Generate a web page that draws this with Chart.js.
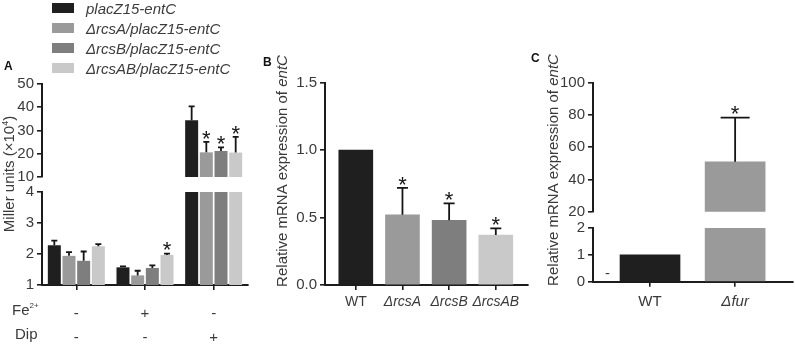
<!DOCTYPE html>
<html><head><meta charset="utf-8">
<script src="https://cdn.jsdelivr.net/npm/chart.js@4.4.1/dist/chart.umd.min.js"></script>
<style>
html,body{margin:0;padding:0;background:#fff;}
#wrap{position:relative;width:795px;height:344px;overflow:hidden;background:#fff;}
#wrap canvas{position:absolute;left:0;top:0;}
</style></head><body>
<div id="wrap">
<canvas id="aTop" width="795" height="344"></canvas>
<canvas id="aBot" width="795" height="344"></canvas>
<canvas id="bChart" width="795" height="344"></canvas>
<canvas id="cTop" width="795" height="344"></canvas>
<canvas id="cBot" width="795" height="344"></canvas>
</div>
<script>
// ---------- DATA ----------
// Panel A (Miller units x10^4)
const aFeRow  = ['-', '+', '-'];
const aDipRow = ['-', '-', '+'];
const aSeriesNames = ['placZ15-entC', '\u0394rcsA/placZ15-entC', '\u0394rcsB/placZ15-entC', '\u0394rcsAB/placZ15-entC'];
const aWT      = [2.28, 1.57, 34.4];
const aRcsA    = [1.94, 1.31, 20.6];
const aRcsB    = [1.78, 1.55, 21.2];
const aRcsAB   = [2.25, 1.97, 20.5];
const aErrWT   = [0.15, 0.03, 6.0];
const aErrRcsA = [0.12, 0.15, 4.5];
const aErrRcsB = [0.30, 0.08, 1.5];
const aErrRcsAB= [0.07, 0.04, 6.8];
const aStarWT  = [false, false, false];
const aStarA   = [false, false, true];
const aStarB   = [false, false, true];
const aStarAB  = [false, true, true];
const aTopTicks = [10, 20, 30, 40, 50];
const aBotTicks = [1, 2, 3, 4];

// Panel B (relative mRNA expression of entC)
const bCats  = ['WT', '\u0394rcsA', '\u0394rcsB', '\u0394rcsAB'];
const bVals  = [1.0, 0.52, 0.48, 0.37];
const bErrs  = [0, 0.20, 0.125, 0.05];
const bStars = [false, true, true, true];
const bTicks = [0, 0.5, 1.0, 1.5];

// Panel C
const cCats  = ['WT', '\u0394fur'];
const cVals  = [1.0, 51];
const cErrs  = [0, 27.3];
const cStars = [false, true];
const cTopTicks = [20, 40, 60, 80, 100];
const cBotTicks = [0, 1, 2];

// ---------- STYLE ----------
const FONT = '"Liberation Sans", Arial, Helvetica, sans-serif';
const AX = '#1c1c1c';
const TXT = '#3a3a3a';
const aColors = ['#1f1f1f', '#9a9a9a', '#7e7e7e', '#c9c9c9'];
const bColors = ['#1f1f1f', '#9a9a9a', '#7e7e7e', '#c9c9c9'];
const cColors = ['#1f1f1f', '#9a9a9a'];
Chart.defaults.font.family = FONT;
Chart.defaults.color = TXT;
const W = 795, H = 344;

function pad(L, T, R, B, yW, xH) {
  return {left: L - yW, top: T, right: W - R, bottom: H - B - xH};
}
function yAxis(min, max, ticks, yW, fmt) {
  return {
    type: 'linear', min, max, beginAtZero: false,
    afterBuildTicks: s => { s.ticks = ticks.map(v => ({value: v})); },
    afterFit: s => { s.width = yW; },
    grid: {drawOnChartArea: false, drawTicks: true, tickLength: 5, color: AX, lineWidth: 1.6},
    border: {display: true, color: AX, width: 2},
    ticks: {color: TXT, font: {size: 15}, padding: 3, autoSkip: false,
            callback: v => fmt ? fmt(v) : String(v)}
  };
}
function errPlugin(id, errs, stars, capW) {
  return {id, afterDatasetsDraw(chart) {
    const ctx = chart.ctx, ys = chart.scales.y;
    ctx.save();
    chart.data.datasets.forEach((ds, di) => {
      const meta = chart.getDatasetMeta(di);
      meta.data.forEach((el, j) => {
        const raw = ds.data[j];
        const v = (raw !== null && typeof raw === 'object') ? raw.y : raw;
        const e = errs[di][j];
        const top = v + e;
        if (v < ys.min || top > ys.max) return;
        const x = el.x, y0 = ys.getPixelForValue(v), y1 = ys.getPixelForValue(top);
        ctx.strokeStyle = '#151515';
        ctx.lineWidth = 1.8;
        if (e > 0) {
          ctx.beginPath();
          ctx.moveTo(x, y0); ctx.lineTo(x, y1);
          ctx.moveTo(x - capW / 2, y1); ctx.lineTo(x + capW / 2, y1);
          ctx.stroke();
        }
        if (stars[di][j]) {
          ctx.fillStyle = '#151515';
          ctx.font = '22px ' + FONT;
          ctx.textAlign = 'center';
          ctx.textBaseline = 'alphabetic';
          ctx.fillText('*', x, y1 - 9 + 12.8);
        }
      });
    });
    ctx.restore();
  }};
}
function drawParts(ctx, parts, x, y, rot, align) {
  ctx.save();
  ctx.translate(x, y);
  if (rot) ctx.rotate(rot);
  ctx.textBaseline = 'alphabetic';
  ctx.textAlign = 'left';
  let w = 0;
  parts.forEach(p => { ctx.font = p.f; w += ctx.measureText(p.t).width; });
  let cur = align === 'center' ? -w / 2 : 0;
  parts.forEach(p => {
    ctx.font = p.f;
    ctx.fillStyle = p.c || TXT;
    ctx.fillText(p.t, cur, p.dy || 0);
    cur += ctx.measureText(p.t).width;
  });
  ctx.restore();
}
const F15 = '15px ' + FONT, F15I = 'italic 15px ' + FONT, FB = 'bold 12px ' + FONT;
const common = {responsive: false, animation: false, events: [], devicePixelRatio: 1};

// ---------- PANEL A ----------
const aVals = [aWT, aRcsA, aRcsB, aRcsAB];
const aErrs = [aErrWT, aErrRcsA, aErrRcsB, aErrRcsAB];
const aStars = [aStarWT, aStarA, aStarB, aStarAB];
const aLabels = aFeRow.map((f, i) => [f, aDipRow[i]]);
function aDatasets() {
  return aSeriesNames.map((n, i) => ({label: n, data: aVals[i], backgroundColor: aColors[i],
    borderWidth: 0, categoryPercentage: 0.855, barPercentage: 0.885}));
}
function aX(show) {
  return {type: 'category', display: show, offset: true,
    afterFit: s => { s.height = show ? 59 : 0; },
    grid: {offset: false, drawOnChartArea: false, drawTicks: true, tickLength: 5, color: AX, lineWidth: 1.6},
    border: {display: true, color: AX, width: 2},
    ticks: {color: TXT, font: {size: 15, lineHeight: '24px'}, padding: 12, maxRotation: 0, autoSkip: false}};
}
new Chart(document.getElementById('aTop'), {
  type: 'bar', data: {labels: aLabels, datasets: aDatasets()},
  options: Object.assign({}, common, {
    layout: {autoPadding: false, padding: pad(42, 84, 248, 177, 42, 0)},
    scales: {x: aX(false), y: yAxis(10, 50, aTopTicks, 42)},
    plugins: {legend: {display: false}, tooltip: {enabled: false}}
  }),
  plugins: [errPlugin('errATop', aErrs, aStars, 6)]
});
new Chart(document.getElementById('aBot'), {
  type: 'bar', data: {labels: aLabels, datasets: aDatasets()},
  options: Object.assign({}, common, {
    layout: {autoPadding: false, padding: pad(42, 192, 248, 285, 42, 59)},
    scales: {x: aX(true), y: yAxis(1, 4, aBotTicks, 42)},
    plugins: {legend: {display: false}, tooltip: {enabled: false}}
  }),
  plugins: [errPlugin('errABot', aErrs, aStars, 6), {id: 'decoA', afterDraw(chart) {
    const ctx = chart.ctx;
    // legend from datasets
    chart.data.datasets.forEach((ds, i) => {
      const cy = 8 + i * 20;
      ctx.fillStyle = ds.backgroundColor;
      ctx.fillRect(52, cy - 5, 22, 10);
      drawParts(ctx, [{t: ds.label, f: F15I, c: '#3c3c3c'}], 86, cy + 5.5, 0, 'left');
    });
    drawParts(ctx, [{t: 'A', f: FB, c: '#111'}], 4, 70, 0, 'left');
    drawParts(ctx, [{t: 'Miller units (\u00d710', f: F15}, {t: '4', f: '9px ' + FONT, dy: -6}, {t: ')', f: F15}],
      14, 174, -Math.PI / 2, 'center');
    drawParts(ctx, [{t: 'Fe', f: F15}, {t: '2+', f: '8px ' + FONT, dy: -7}], 12, 315, 0, 'left');
    drawParts(ctx, [{t: 'Dip', f: F15}], 15, 339, 0, 'left');
  }}]
});

// ---------- PANEL B ----------
new Chart(document.getElementById('bChart'), {
  type: 'bar',
  data: {datasets: [{label: 'B', data: bVals.map((v, i) => ({x: i, y: v})), backgroundColor: bColors,
    borderWidth: 0, barThickness: 34}]},
  options: Object.assign({}, common, {
    layout: {autoPadding: false, padding: pad(325, 82.7, 528, 285, 40, 59)},
    scales: {
      x: {type: 'linear', min: -0.66, max: 3.69, offset: false,
        afterBuildTicks: s => { s.ticks = bCats.map((c, i) => ({value: i})); },
        afterFit: s => { s.height = 59; },
        grid: {offset: false, drawOnChartArea: false, drawTicks: true, tickLength: 5, color: AX, lineWidth: 1.6},
        border: {display: true, color: AX, width: 2},
        ticks: {color: TXT, padding: 4, maxRotation: 0, autoSkip: false,
          font: c => ({size: 14, style: (c.tick && c.tick.value === 0) ? 'normal' : 'italic'}),
          callback: v => bCats[v]}},
      y: yAxis(0, 1.5, bTicks, 40, v => v.toFixed(1))
    },
    plugins: {legend: {display: false}, tooltip: {enabled: false}}
  }),
  plugins: [errPlugin('errB', [bErrs], [bStars], 11), {id: 'decoB', afterDraw(chart) {
    const ctx = chart.ctx;
    drawParts(ctx, [{t: 'B', f: FB, c: '#111'}], 263, 66, 0, 'left');
    drawParts(ctx, [{t: 'Relative mRNA expression of ', f: F15}, {t: 'entC', f: F15I}],
      287, 171, -Math.PI / 2, 'center');
  }}]
});

// ---------- PANEL C ----------
function cData() {
  return [{label: 'C', data: cVals.map((v, i) => ({x: i, y: v})), backgroundColor: cColors,
    borderWidth: 0, barThickness: 60}];
}
function cX(show) {
  return {type: 'linear', display: show, min: -0.67, max: 1.68, offset: false,
    afterBuildTicks: s => { s.ticks = cCats.map((c, i) => ({value: i})); },
    afterFit: s => { s.height = show ? 62.3 : 0; },
    grid: {offset: false, drawOnChartArea: false, drawTicks: true, tickLength: 5, color: AX, lineWidth: 1.6},
    border: {display: true, color: AX, width: 2},
    ticks: {color: TXT, padding: 6, maxRotation: 0, autoSkip: false,
      font: c => ({size: 15, style: (c.tick && c.tick.value === 0) ? 'normal' : 'italic'}),
      callback: v => cCats[v]}};
}
new Chart(document.getElementById('cTop'), {
  type: 'bar', data: {datasets: cData()},
  options: Object.assign({}, common, {
    layout: {autoPadding: false, padding: pad(593, 82.7, 793, 211.7, 50, 0)},
    scales: {x: cX(false), y: yAxis(20, 100, cTopTicks, 50)},
    plugins: {legend: {display: false}, tooltip: {enabled: false}}
  }),
  plugins: [errPlugin('errCTop', [cErrs], [cStars], 29)]
});
new Chart(document.getElementById('cBot'), {
  type: 'bar', data: {datasets: cData()},
  options: Object.assign({}, common, {
    layout: {autoPadding: false, padding: pad(593, 228, 793, 281.7, 50, 62.3)},
    scales: {x: cX(true), y: yAxis(0, 2, cBotTicks, 50)},
    plugins: {legend: {display: false}, tooltip: {enabled: false}}
  }),
  plugins: [errPlugin('errCBot', [cErrs], [cStars], 29), {id: 'decoC', afterDraw(chart) {
    const ctx = chart.ctx;
    drawParts(ctx, [{t: 'C', f: FB, c: '#111'}], 531, 62, 0, 'left');
    drawParts(ctx, [{t: 'Relative mRNA expression of ', f: F15}, {t: 'entC', f: F15I}],
      558, 170, -Math.PI / 2, 'center');
    drawParts(ctx, [{t: '-', f: F15}], 605, 278, 0, 'left');
  }}]
});
</script>
</body></html>
